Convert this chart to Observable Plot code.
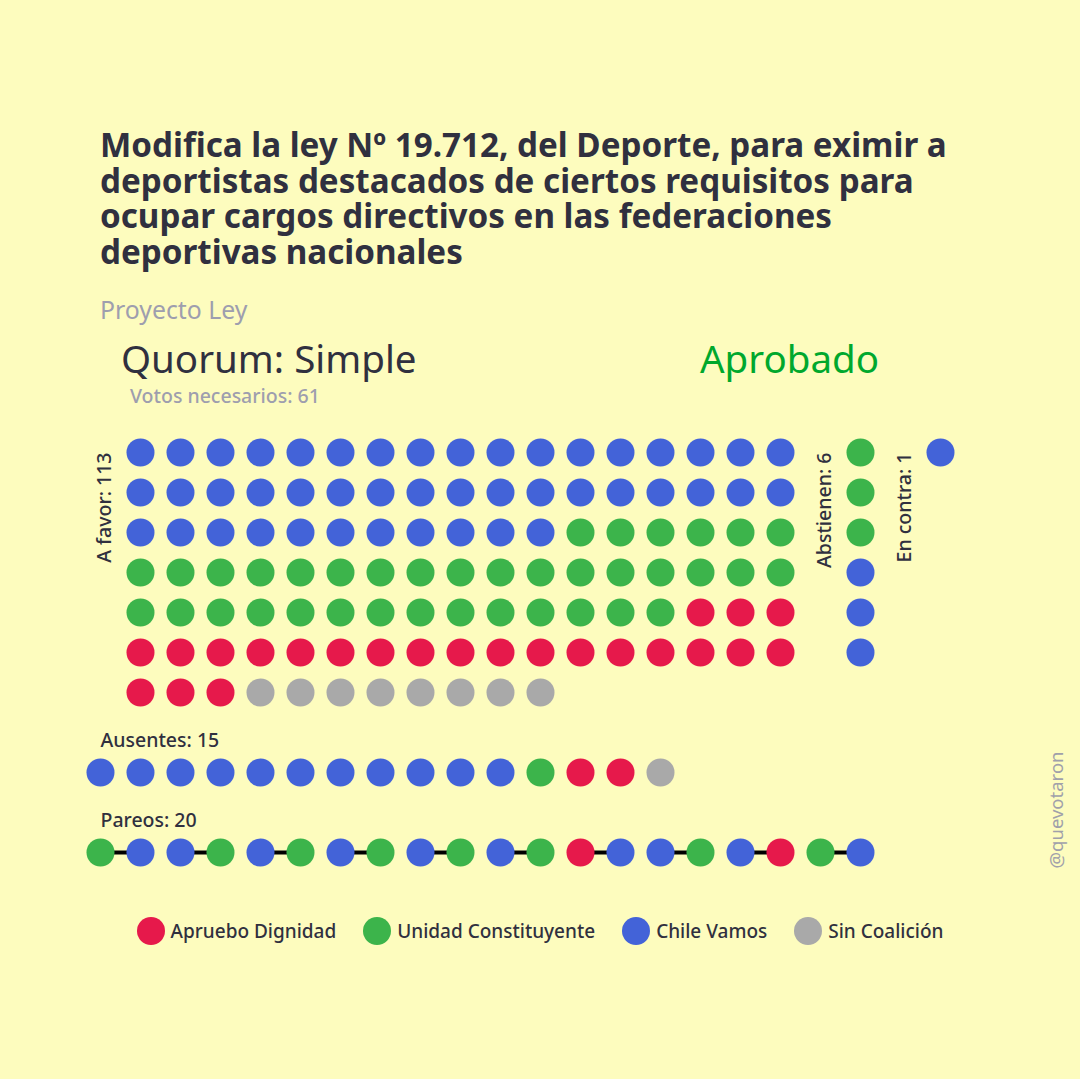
<!DOCTYPE html>
<html>
<head>
<meta charset="utf-8">
<script src="https://cdn.jsdelivr.net/npm/d3@7"></script>
<script src="https://cdn.jsdelivr.net/npm/@observablehq/plot@0.6"></script>
<style>
  html, body { margin: 0; padding: 0; background: #fdfcbe; }
  #wrap { position: relative; width: 1080px; height: 1079px; background: #fdfcbe; font-family: "Noto Sans", sans-serif; color: #30303f; overflow: hidden; }
  .abs { position: absolute; white-space: nowrap; }
  #title { left: 100px; top: 127px; font-size: 33.2px; font-weight: 700; line-height: 35.5px; white-space: normal; width: 880px; }
  #sub { left: 100px; top: 292px; font-size: 24.8px; color: #9e9eae; }
  #quorum { left: 121px; top: 332px; font-size: 38.5px; }
  #estado { left: 700px; top: 332px; font-size: 38.5px; color: #00a82d; }
  #needed { left: 130px; top: 382px; font-size: 19.5px; font-weight: 500; color: #9e9eae; }
  #chart { left: 0; top: 420px; }
  #legend { left: 0; top: 917px; width: 1080px; display: flex; justify-content: center; gap: 27px; font-size: 19px; font-weight: 500; }
  .item { display: flex; align-items: center; gap: 6px; height: 28px; }
  .sw { width: 28px; height: 28px; border-radius: 50%; display: inline-block; }
  #credit { left: 1055px; top: 810px; transform: translate(-50%, -50%) rotate(-90deg); font-size: 18.5px; color: #a0a0aa; }
</style>
</head>
<body>
<div id="wrap">
  <div id="title" class="abs"></div>
  <div id="sub" class="abs"></div>
  <div id="quorum" class="abs"></div>
  <div id="estado" class="abs"></div>
  <div id="needed" class="abs"></div>
  <div id="chart" class="abs"></div>
  <div id="legend" class="abs"></div>
  <div id="credit" class="abs"></div>
</div>
<script>
// ---- texts ----
const titleText = "Modifica la ley Nº 19.712, del Deporte, para eximir a deportistas destacados de ciertos requisitos para ocupar cargos directivos en las federaciones deportivas nacionales";
const subtitleText = "Proyecto Ley";
const quorumText = "Quorum: Simple";
const resultText = "Aprobado";
const neededText = "Votos necesarios: 61";
const creditText = "@quevotaron";

// ---- coalitions ----
const coalitions = ["Apruebo Dignidad", "Unidad Constituyente", "Chile Vamos", "Sin Coalición"];
const coalitionColors = ["#e6194b", "#3cb44b", "#4363d8", "#a9a9a9"];

// ---- votes (coalition, count) in drawing order ----
const aFavor = [["Chile Vamos", 45], ["Unidad Constituyente", 37], ["Apruebo Dignidad", 23], ["Sin Coalición", 8]];
const abstienen = [["Unidad Constituyente", 3], ["Chile Vamos", 3]];
const enContra = [["Chile Vamos", 1]];
const ausentes = [["Chile Vamos", 11], ["Unidad Constituyente", 1], ["Apruebo Dignidad", 2], ["Sin Coalición", 1]];
const pareos = ["Unidad Constituyente", "Chile Vamos", "Chile Vamos", "Unidad Constituyente",
  "Chile Vamos", "Unidad Constituyente", "Chile Vamos", "Unidad Constituyente",
  "Chile Vamos", "Unidad Constituyente", "Chile Vamos", "Unidad Constituyente",
  "Apruebo Dignidad", "Chile Vamos", "Chile Vamos", "Unidad Constituyente",
  "Chile Vamos", "Apruebo Dignidad", "Unidad Constituyente", "Chile Vamos"];

// ---- build grid ----
const expand = (groups) => groups.flatMap(([c, n]) => Array.from({length: n}, () => c));
const perRow = 17;
const dots = [];
expand(aFavor).forEach((c, i) => dots.push({coal: c, col: i % perRow, row: Math.floor(i / perRow)}));
expand(abstienen).forEach((c, i) => dots.push({coal: c, col: perRow + 1, row: i}));
expand(enContra).forEach((c, i) => dots.push({coal: c, col: perRow + 3, row: i}));
expand(ausentes).forEach((c, i) => dots.push({coal: c, col: i - 1, row: 8}));
pareos.forEach((c, i) => dots.push({coal: c, col: i - 1, row: 10}));
const links = d3.range(0, pareos.length, 2).map(i => ({x1: i - 1, x2: i, row: 10}));

const total = g => d3.sum(g, d => d[1]);
const vLabels = [
  {text: `A favor: ${total(aFavor)}`, col: -1},
  {text: `Abstienen: ${total(abstienen)}`, col: perRow},
  {text: `En contra: ${total(enContra)}`, col: perRow + 2}
];
const hLabels = [
  {text: `Ausentes: ${total(ausentes)}`, row: 7.2},
  {text: `Pareos: ${pareos.length}`, row: 9.2}
];

const chart = Plot.plot({
  width: 1080, height: 460,
  marginLeft: 100, marginRight: 140, marginTop: 32, marginBottom: 28,
  x: {domain: [-1, 20], axis: null},
  y: {domain: [0, 10], axis: null, reverse: true},
  color: {domain: coalitions, range: coalitionColors},
  style: {background: "transparent", fontFamily: "Noto Sans, sans-serif", color: "#30303f"},
  marks: [
    Plot.link(links, {x1: "x1", x2: "x2", y1: "row", y2: "row", stroke: "black", strokeWidth: 4}),
    Plot.dot(dots, {x: "col", y: "row", fill: "coal", r: 14}),
    Plot.text(vLabels, {x: "col", y: () => 0, text: "text", rotate: -90, textAnchor: "end", dx: 4, fontSize: 19.5, fontWeight: 500, fill: "#30303f"}),
    Plot.text(hLabels, {x: () => -1, y: "row", text: "text", textAnchor: "start", fontSize: 19.5, fontWeight: 500, fill: "#30303f"})
  ]
});
document.getElementById("chart").appendChild(chart);

document.getElementById("title").textContent = titleText;
document.getElementById("sub").textContent = subtitleText;
document.getElementById("quorum").textContent = quorumText;
document.getElementById("estado").textContent = resultText;
document.getElementById("needed").textContent = neededText;
document.getElementById("credit").textContent = creditText;

const legend = document.getElementById("legend");
coalitions.forEach((c, i) => {
  const item = document.createElement("div");
  item.className = "item";
  const sw = document.createElement("span");
  sw.className = "sw";
  sw.style.background = coalitionColors[i];
  const t = document.createElement("span");
  t.textContent = c;
  item.append(sw, t);
  legend.appendChild(item);
});
</script>
</body>
</html>
